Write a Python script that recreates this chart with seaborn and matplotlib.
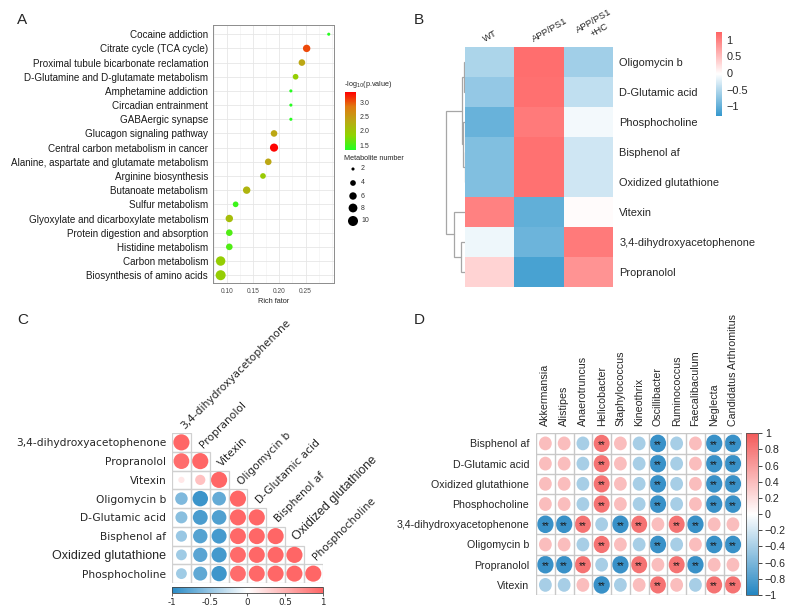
import numpy as np
import pandas as pd
import seaborn as sns
import matplotlib.pyplot as plt
from matplotlib.colors import LinearSegmentedColormap, Normalize
from matplotlib.cm import ScalarMappable
from matplotlib.patches import Ellipse, Rectangle
from matplotlib.ticker import MultipleLocator

sns.set_style("white")
plt.rcParams['font.family'] = ['Liberation Sans', 'DejaVu Sans']

# ---------------- panel A : KEGG enrichment ----------------
pathways = ["Cocaine addiction", "Citrate cycle (TCA cycle)",
            "Proximal tubule bicarbonate reclamation",
            "D-Glutamine and D-glutamate metabolism", "Amphetamine addiction",
            "Circadian entrainment", "GABAergic synapse",
            "Glucagon signaling pathway", "Central carbon metabolism in cancer",
            "Alanine, aspartate and glutamate metabolism",
            "Arginine biosynthesis", "Butanoate metabolism", "Sulfur metabolism",
            "Glyoxylate and dicarboxylate metabolism",
            "Protein digestion and absorption", "Histidine metabolism",
            "Carbon metabolism", "Biosynthesis of amino acids"]
rich_factor = [0.294, 0.252, 0.243, 0.231, 0.222, 0.222, 0.222, 0.190, 0.190,
               0.179, 0.169, 0.138, 0.117, 0.105, 0.105, 0.105, 0.0885, 0.0885]
neg_log_p = [1.36, 3.05, 2.35, 1.9, 1.36, 1.36, 1.36, 2.35, 3.33, 2.35, 1.95,
             2.2, 1.45, 2.1, 1.55, 1.55, 1.9, 1.9]
metab_num = [2, 6, 5, 4, 2, 2, 2, 5, 7, 5, 4, 6, 4, 6, 5, 5, 9, 10]
size_levels = [2, 4, 6, 8, 10]

# ---------------- panel B : heatmap ----------------
b_metabolites = ["Oligomycin b", "D-Glutamic acid", "Phosphocholine",
                 "Bisphenol af", "Oxidized glutathione", "Vitexin",
                 "3,4-dihydroxyacetophenone", "Propranolol"]
b_groups = ["WT", "APP/PS1", "APP/PS1\n+HC"]
b_wt = [-0.55, -0.7, -0.98, -0.82, -0.82, 1.0, -0.13, 0.33]
b_app = [1.16, 1.14, 1.06, 1.13, 1.13, -1.02, -0.95, -1.18]
b_hc = [-0.62, -0.42, -0.1, -0.33, -0.33, 0.0, 1.06, 0.85]
# merges (left, right, height), new nodes numbered from 8
b_linkage = [(3, 4, 0.1), (0, 1, 0.25), (2, 8, 0.4), (9, 10, 0.6),
             (6, 7, 0.9), (5, 12, 2.3), (11, 13, 3.9)]

# ---------------- panel C : metabolite correlation ----------------
c_names = ["3,4-dihydroxyacetophenone", "Propranolol", "Vitexin",
           "Oligomycin b", "D-Glutamic acid", "Bisphenol af",
           "Oxidized glutathione", "Phosphocholine"]
c_corr = [[1.0],
          [0.95, 1.0],
          [0.15, 0.4, 1.0],
          [-0.6, -0.92, -0.72, 1.0],
          [-0.55, -0.85, -0.82, 0.99, 1.0],
          [-0.48, -0.8, -0.86, 0.98, 0.99, 1.0],
          [-0.45, -0.78, -0.88, 0.97, 0.99, 0.99, 1.0],
          [-0.45, -0.75, -0.9, 0.96, 0.98, 0.99, 0.99, 1.0]]

# ---------------- panel D : metabolite vs genus ----------------
d_genera = ["Akkermansia", "Alistipes", "Anaerotruncus", "Helicobacter",
            "Staphylococcus", "Kineothrix", "Oscillibacter", "Ruminococcus",
            "Faecalibaculum", "Neglecta", "Candidatus Arthromitus"]
d_metabolites = ["Bisphenol af", "D-Glutamic acid", "Oxidized glutathione",
                 "Phosphocholine", "3,4-dihydroxyacetophenone", "Oligomycin b",
                 "Propranolol", "Vitexin"]
pat_a = [0.4, 0.4, -0.4, 0.85, 0.4, -0.4, -0.9, -0.4, 0.4, -0.9, -0.9]
pat_b = [-0.9, -0.9, 0.85, -0.4, -0.9, 0.85, 0.4, 0.85, -0.9, 0.4, 0.4]
pat_c = [-0.4, -0.4, 0.4, -0.9, -0.4, 0.4, 0.85, 0.4, -0.4, 0.85, 0.85]
d_corr = [pat_a, pat_a, pat_a, pat_a, pat_b, pat_a, pat_b, pat_c]
sig_a = [0, 0, 0, 1, 0, 0, 1, 0, 0, 1, 1]
sig_b = [1, 1, 1, 0, 1, 1, 0, 1, 1, 0, 0]
d_sig = [sig_a, sig_a, sig_a, sig_a, sig_b, sig_a, sig_b, sig_a]

W, H = 796, 616
fig = plt.figure(figsize=(W / 100, H / 100), dpi=100)


def box(x0, y0, x1, y1):
    return [x0 / W, 1 - y1 / H, (x1 - x0) / W, (y1 - y0) / H]


# overlay in pixel units for panel letters and legend pieces
ov = fig.add_axes([0, 0, 1, 1])
ov.set_xlim(0, W)
ov.set_ylim(H, 0)
ov.axis("off")
for letter, x, y in [("A", 17, 20), ("B", 414, 20), ("C", 17, 320), ("D", 414, 320)]:
    ov.text(x, y, letter, fontsize=11, ha="left", va="center")

# ===== A =====
cmapA = LinearSegmentedColormap.from_list(
    "gr", ["#22ff22", "#8fd400", "#bba814", "#e07a10", "#ff0000"])
dfA = pd.DataFrame({"pathway": pathways, "rich": rich_factor,
                    "logp": neg_log_p, "n": metab_num})
axA = fig.add_axes(box(213, 25, 334, 283))
sns.scatterplot(data=dfA, x="rich", y="pathway", hue="logp", size="n",
                sizes=(5, 52), size_norm=(2, 10), hue_norm=(1.33, 3.35),
                palette=cmapA, edgecolor="none", legend=False, ax=axA, zorder=3)
axA.set_xlim(0.074, 0.304)
axA.set_ylim(len(pathways) - 0.45, -0.65)
axA.set_xticks([0.10, 0.15, 0.20, 0.25])
axA.set_xticklabels(["0.10", "0.15", "0.20", "0.25"])
axA.xaxis.set_minor_locator(MultipleLocator(0.025))
axA.grid(which="major", color="#e6e6e6", lw=0.6)
axA.grid(which="minor", axis="x", color="#f0f0f0", lw=0.4)
for s in axA.spines.values():
    s.set_color("#8c8c8c")
    s.set_linewidth(0.7)
axA.tick_params(axis="y", labelsize=7.1, length=2, width=0.5, color="#444",
                labelcolor="#1a1a1a", pad=1.5)
axA.tick_params(axis="x", labelsize=4.8, length=2, width=0.5, color="#444",
                labelcolor="#4d4d4d", pad=1.5)
axA.tick_params(axis="x", which="minor", length=0)
axA.set_xlabel("Rich fator", fontsize=5.3, labelpad=2)
axA.set_ylabel("")

caxA = fig.add_axes(box(345, 92, 356, 150))
cbA = fig.colorbar(ScalarMappable(Normalize(1.33, 3.35), cmapA), cax=caxA)
cbA.outline.set_visible(False)
cbA.set_ticks([1.5, 2.0, 2.5, 3.0])
cbA.set_ticklabels(["1.5", "2.0", "2.5", "3.0"])
caxA.tick_params(labelsize=5, length=0, pad=2.5, labelcolor="#333")
ov.text(344, 84, "-log$_{10}$(p.value)", fontsize=5.2, ha="left", va="center")
ov.text(344, 159, "Metabolite number", fontsize=5.2, ha="left", va="center")
leg_y = [169, 183, 196, 208, 221]
ov.scatter([353] * len(size_levels), leg_y,
           s=[5 + (n - 2) / 8 * 47 for n in size_levels], color="black",
           edgecolor="none")
for n, y in zip(size_levels, leg_y):
    ov.text(361, y, str(n), fontsize=5, ha="left", va="center", color="#333")

# ===== B =====
cmapB = LinearSegmentedColormap.from_list("bwr_b", ["#3598cd", "#ffffff", "#ff6464"])
dfB = pd.DataFrame({"WT": b_wt, "APP/PS1": b_app, "APP/PS1\n+HC": b_hc},
                   index=b_metabolites)
axB = fig.add_axes(box(465, 47, 613, 287))
caxB = fig.add_axes(box(716, 32, 722, 116))
sns.heatmap(dfB, ax=axB, cmap=cmapB, vmin=-1.3, vmax=1.24, cbar_ax=caxB,
            xticklabels=False, yticklabels=b_metabolites)
axB.yaxis.tick_right()
axB.tick_params(axis="y", length=0, labelsize=7.9, pad=4.5, labelrotation=0)
axB.set_xlabel("")
axB.set_ylabel("")
for j, g in enumerate(b_groups):
    axB.text(j + 0.42, -0.12, g, rotation=30, rotation_mode="anchor", ha="left",
             va="bottom", fontsize=6.8, multialignment="center")
cbB = axB.collections[0].colorbar
cbB.outline.set_visible(False)
cbB.set_ticks([1, 0.5, 0, -0.5, -1])
cbB.set_ticklabels(["1", "0.5", "0", "\u22120.5", "\u22121"])
caxB.tick_params(labelsize=7.9, length=0, pad=3)

axD0 = fig.add_axes(box(444, 47, 465, 287))
pos = {i: i + 0.5 for i in range(len(b_metabolites))}
hgt = {i: 0.0 for i in range(len(b_metabolites))}
for k, (a, b, h) in enumerate(b_linkage):
    node = len(b_metabolites) + k
    axD0.plot([hgt[a], h, h, hgt[b]], [pos[a], pos[a], pos[b], pos[b]],
              color="#a6a6a6", lw=0.9, solid_joinstyle="miter")
    pos[node] = (pos[a] + pos[b]) / 2
    hgt[node] = h
axD0.set_xlim(4.3, 0)
axD0.set_ylim(len(b_metabolites), 0)
axD0.axis("off")

# ===== C =====
cmapC = LinearSegmentedColormap.from_list("bwr_c", ["#2a8bc6", "#ffffff", "#ff6666"])
recs = []
for i, row in enumerate(c_corr):
    for j, r in enumerate(row):
        recs.append({"col": j, "row": i, "r": r, "absr": abs(r)})
dfC = pd.DataFrame(recs)
axC = fig.add_axes(box(172, 433, 322.7, 583))
for _, rr in dfC.iterrows():
    axC.add_patch(Rectangle((rr["col"] - 0.5, rr["row"] - 0.5), 1, 1,
                            facecolor="none", edgecolor="#d0d0d0", lw=0.9))
sns.scatterplot(data=dfC, x="col", y="row", hue="r", size="absr",
                hue_norm=(-1, 1), palette=cmapC, sizes=(0, 135),
                size_norm=(0, 1), edgecolor="none", legend=False, ax=axC,
                zorder=3)
axC.set_xlim(-0.5, 7.5)
axC.set_ylim(7.5, -0.5)
axC.set_xticks([])
axC.set_yticks(range(len(c_names)))
axC.set_yticklabels(c_names)
axC.tick_params(axis="y", length=0, pad=4, labelsize=7.7)
axC.set_xlabel("")
axC.set_ylabel("")
for s in axC.spines.values():
    s.set_visible(False)
for lab in axC.get_yticklabels():
    if lab.get_text() == "Oxidized glutathione":
        lab.set_fontfamily("Liberation Sans")
        lab.set_fontsize(9)
    else:
        lab.set_fontfamily("DejaVu Sans")
for j, name in enumerate(c_names):
    big = name == "Oxidized glutathione"
    axC.text(j + 0.25, j - 0.62, name, rotation=45, rotation_mode="anchor",
             ha="left", va="bottom", fontsize=9 if big else 7.7,
             family="Liberation Sans" if big else "DejaVu Sans")
caxC = fig.add_axes(box(172, 587, 322.7, 593))
cbC = fig.colorbar(ScalarMappable(Normalize(-1, 1), cmapC), cax=caxC,
                   orientation="horizontal")
cbC.set_ticks([-1, -0.5, 0, 0.5, 1])
cbC.set_ticklabels(["-1", "-0.5", "0", "0.5", "1"])
cbC.outline.set_edgecolor("#444")
cbC.outline.set_linewidth(0.6)
caxC.tick_params(labelsize=6.3, length=2, width=0.5, pad=1.5)
for lab in caxC.get_xticklabels():
    lab.set_fontfamily("DejaVu Sans")

# ===== D =====
cmapD = LinearSegmentedColormap.from_list("bwr_d", ["#2486c2", "#ffffff", "#f35b5b"])
normD = Normalize(-1, 1)
axD = fig.add_axes(box(536, 433.3, 742.3, 595))
nr, nc = len(d_metabolites), len(d_genera)
for i in range(nr):
    for j in range(nc):
        r = d_corr[i][j]
        frac = 0.53 + 0.38 * abs(r)
        axD.add_patch(Ellipse((j + 0.5, i + 0.5), frac, frac,
                              facecolor=cmapD(normD(r)), edgecolor="none"))
        if d_sig[i][j]:
            axD.text(j + 0.5, i + 0.58, "**", ha="center", va="center",
                     fontsize=7, color="#1a1a1a")
axD.vlines(range(nc + 1), 0, nr, color="#c8c8c8", lw=1)
axD.hlines(range(nr + 1), 0, nc, color="#c8c8c8", lw=1)
axD.set_xlim(0, nc)
axD.set_ylim(nr, 0)
for s in axD.spines.values():
    s.set_visible(False)
axD.xaxis.tick_top()
axD.set_xticks(np.arange(nc) + 0.5)
axD.set_xticklabels(d_genera, rotation=90)
axD.set_yticks(np.arange(nr) + 0.5)
axD.set_yticklabels(d_metabolites)
axD.tick_params(length=0, labelsize=7.7, pad=5)

caxD = fig.add_axes(box(746, 433.3, 758, 595))
cbD = fig.colorbar(ScalarMappable(normD, cmapD), cax=caxD)
d_ticks = [-1, -0.8, -0.6, -0.4, -0.2, 0, 0.2, 0.4, 0.6, 0.8, 1]
cbD.set_ticks(d_ticks)
cbD.set_ticklabels([f"{v:g}".replace("-", "\u2212") for v in d_ticks])
cbD.outline.set_edgecolor("#555")
cbD.outline.set_linewidth(0.6)
caxD.tick_params(labelsize=7.7, length=3, width=0.6, pad=2)

fig.savefig("out.png", dpi=100)
